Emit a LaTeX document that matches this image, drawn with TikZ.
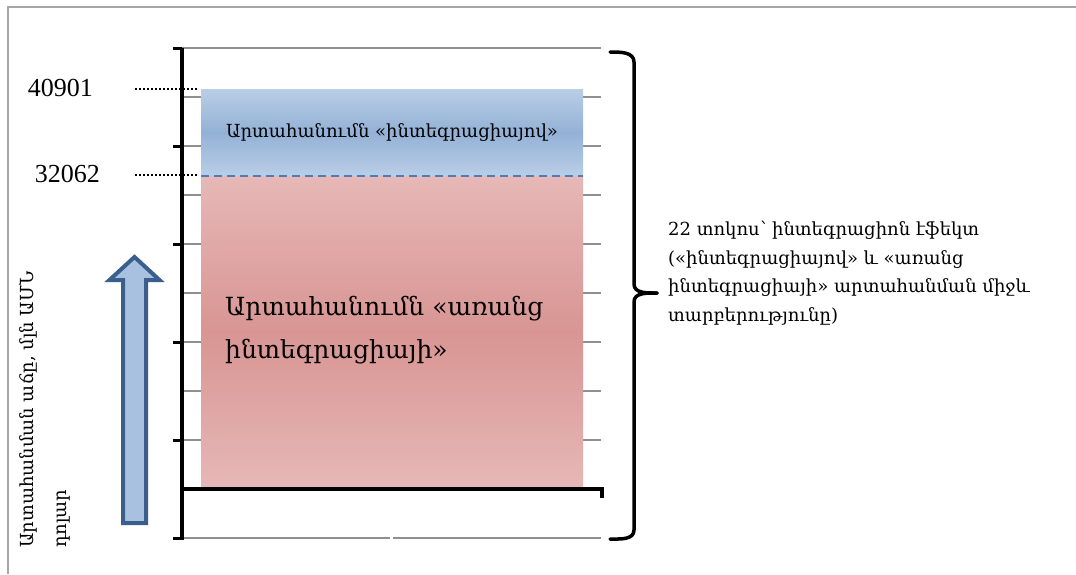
\documentclass[tikz,border=0pt]{standalone}
\usepackage{fontspec}
\setmainfont{Liberation Serif}
\newfontfamily\arm{DejaVu Serif}
\definecolor{framegray}{HTML}{A6A6A6}
\definecolor{gridgray}{HTML}{8F8F8F}
\definecolor{bluelt}{HTML}{BACEE6}
\definecolor{bluedk}{HTML}{93B1D6}
\definecolor{redlt}{HTML}{E6B8B7}
\definecolor{reddk}{HTML}{D89593}
\definecolor{dashblue}{HTML}{4A7EBB}
\definecolor{arrowfill}{HTML}{A9C1E1}
\definecolor{arrowline}{HTML}{3A5F8C}
\tikzset{
  gridline/.style={draw=gridgray, line width=1.5pt},
  axisline/.style={draw=black, line width=3.5pt},
  tickline/.style={draw=black, line width=3pt},
  dotline/.style={draw=black, line width=2.2pt, dash pattern=on 2pt off 2pt},
  numlabel/.style={font=\fontsize{26}{30}\selectfont, inner sep=0pt},
  armtext/.style={font=\arm\fontsize{#1}{#1}\selectfont, inner sep=0pt},
}
\begin{document}
\begin{tikzpicture}[x=1pt,y=-1pt]
\useasboundingbox (0,0) rectangle (1076,574);
\fill[white] (0,0) rectangle (1076,574);
% outer frame
\draw[framegray, line width=2pt] (8,574) -- (8,7) -- (1076,7);
% grid lines
\foreach \y in {48,97,...,440} \draw[gridline] (182,\y) -- (601,\y);
\draw[gridline] (182,538) -- (390,538);
\draw[gridline] (393,538) -- (601,538);
% bars
\shade[top color=bluelt, bottom color=bluelt, middle color=bluedk] (201,89) rectangle (583,176);
\shade[top color=redlt, bottom color=redlt, middle color=reddk] (201,176) rectangle (583,489);
\draw[dashblue, line width=2pt, dash pattern=on 8pt off 5pt] (201,176) -- (583,176);
% axes
\draw[axisline] (182,48) -- (182,540);
\foreach \y in {48,146,...,538} \draw[tickline] (173,\y) -- (182,\y);
\draw[axisline, line join=miter] (182,489) -- (602,489) -- (602,498);
% value labels and dotted leaders
\node[numlabel, anchor=east] (v1) at (93,88) {40901};
\node[numlabel, anchor=east] (v2) at (100,174) {32062};
\coordinate (d1a) at (135,89);
\coordinate (d1b) at (198,89);
\coordinate (d2a) at (135,175);
\coordinate (d2b) at (198,175);
\draw[dotline] (d1a) -- (d1b);
\draw[dotline] (d2a) -- (d2b);
% bar labels
\node[armtext=18] (tb) at (392,133) {Արտահանումն «ինտեգրացիայով»};
\node[armtext=25, anchor=north west, align=left, font=\arm\fontsize{25}{43}\selectfont] (tr) at (225,296) {Արտահանումն «առանց\\ինտեգրացիայի»};
% block arrow
\draw[arrowline, fill=arrowfill, line width=4pt, line join=miter] (123,523) -- (123,280) -- (109.5,280) -- (134.5,257) -- (159.5,280) -- (146,280) -- (146,523) -- cycle;
% axis title
\node[armtext=18, rotate=90, anchor=north west, align=left, font=\arm\fontsize{18}{33}\selectfont] (yt) at (19,548) {Արտահանման աճը, մլն ԱՄՆ\\դոլար};
% brace
\draw[black, line width=3.5pt, line cap=round] (610,52) to[out=0,in=90] (634,62) -- (634,284) to[out=-90,in=180] (657,293);
\draw[black, line width=3.5pt, line cap=round] (657,293) to[out=180,in=90] (634,302) -- (634,530) to[out=-90,in=0] (610,539);
% brace label
\node[armtext=18, anchor=north west, align=left, font=\arm\fontsize{18}{28.5}\selectfont] (eff) at (668,221) {22 տոկոս՝ ինտեգրացիոն էֆեկտ\\(«ինտեգրացիայով» և «առանց\\ինտեգրացիայի» արտահանման միջև\\տարբերությունը)};
\end{tikzpicture}
\end{document}
